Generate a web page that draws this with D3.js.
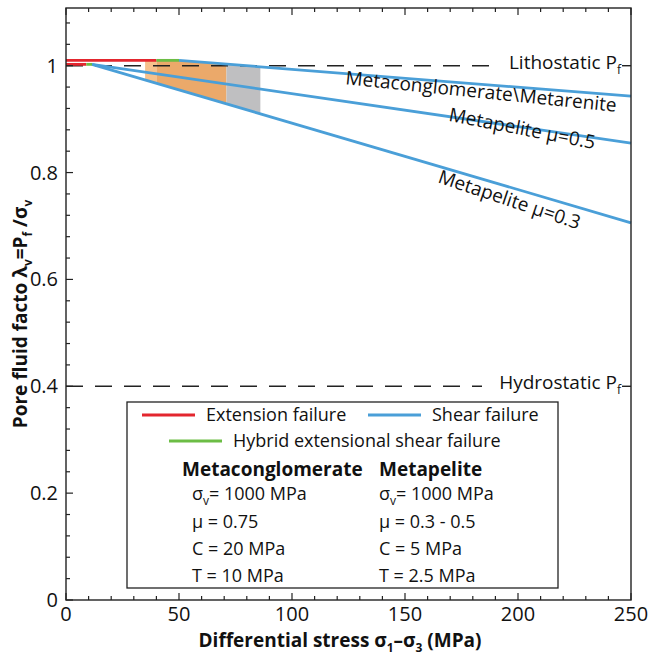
<!DOCTYPE html>
<html>
<head>
<meta charset="utf-8">
<script src="https://cdn.jsdelivr.net/npm/d3@7/dist/d3.min.js"></script>
<style>
  body { margin: 0; background: #fff; }
  text { font-family: "Open Sans", "Noto Sans", sans-serif; fill: #111; }
</style>
</head>
<body>
<svg width="648" height="656"></svg>
<script>
// ---- data ----
const xTicks = [0, 50, 100, 150, 200, 250];
const yTicks = [0, 0.2, 0.4, 0.6, 0.8, 1];
const yTickLabels = ["0", "0.2", "0.4", "0.6", "0.8", "1"];

// metaconglomerate / metarenite
const conglExtX = [0, 40];
const conglExtY = [1.01, 1.01];
const conglHybX = [40, 50];
const conglHybY = [1.01, 1.01];
const conglShearX = [50, 250];
const conglShearY = [1.01, 0.943];

// metapelite
const pelExtX = [0, 9];
const pelExtY = [1.0025, 1.0025];
const pelHybX = [9, 11.5];
const pelHybY = [1.0025, 1.0025];
const pel05X = [11.5, 250];
const pel05Y = [1.0025, 0.855];
const pel03X = [11.5, 250];
const pel03Y = [1.0025, 0.706];

// shaded stress windows (MPa)
const bandEdges = [35, 40, 71, 86];

// reference pore pressure levels
const refLevels = [1, 0.4];
const refNames = ["Lithostatic", "Hydrostatic"];

// ---- layout ----
const width = 648, height = 656;
const margin = { top: 8, right: 17, bottom: 56, left: 66 };
const red = "#e3262e", blue = "#4a9fd8", green = "#6cbd45";
const bandColors = ["#f6c18c", "#eba96a", "#bfbfc1"];

const svg = d3.select("svg");
const x = d3.scaleLinear().domain([0, 250]).range([margin.left, width - margin.right]);
const y = d3.scaleLinear().domain([0, 1.108]).range([height - margin.bottom, margin.top]);

function interp(xs, ys, v) {
  const t = (v - xs[0]) / (xs[1] - xs[0]);
  return ys[0] + t * (ys[1] - ys[0]);
}
function topEnv(v) { return v <= conglShearX[0] ? conglExtY[0] : interp(conglShearX, conglShearY, v); }
function botEnv(v) { return interp(pel03X, pel03Y, v); }

// shaded bands
const area = d3.area().x(d => x(d)).y0(d => y(botEnv(d))).y1(d => y(topEnv(d)));
for (let i = 0; i < bandEdges.length - 1; i++) {
  const a = bandEdges[i], b = bandEdges[i + 1];
  const pts = [a];
  if (conglShearX[0] > a && conglShearX[0] < b) pts.push(conglShearX[0]);
  pts.push(b);
  svg.append("path").attr("d", area(pts)).attr("fill", bandColors[i]);
}

// dashed reference lines + labels
const labelStart = [505, 496];
refLevels.forEach((lv, i) => {
  svg.append("line")
    .attr("x1", x(0)).attr("x2", labelStart[i] - 14)
    .attr("y1", y(lv)).attr("y2", y(lv))
    .attr("stroke", "#222").attr("stroke-width", 1.4)
    .attr("stroke-dasharray", "17,12");
  svg.append("line")
    .attr("x1", x(250) - 9).attr("x2", x(250))
    .attr("y1", y(lv)).attr("y2", y(lv))
    .attr("stroke", "#222").attr("stroke-width", 1.4);
  const t = svg.append("text")
    .attr("x", x(250) - 10).attr("y", y(lv) + 3)
    .attr("text-anchor", "end").attr("font-size", 19);
  t.append("tspan").text(refNames[i] + " P");
  t.append("tspan").attr("dy", 5).attr("font-size", 12).text("f");
});

// failure envelope lines
const line = d3.line().x(d => x(d[0])).y(d => y(d[1]));
function seg(xs, ys, col) {
  svg.append("path")
    .attr("d", line(xs.map((v, i) => [v, ys[i]])))
    .attr("fill", "none").attr("stroke", col).attr("stroke-width", 2.8);
}
seg(pel05X, pel05Y, blue);
seg(pel03X, pel03Y, blue);
seg(conglShearX, conglShearY, blue);
seg(pelExtX, pelExtY, red);
seg(pelHybX, pelHybY, green);
seg(conglExtX, conglExtY, red);
seg(conglHybX, conglHybY, green);

// line labels
function rotLabel(txt, cx, cy, ang) {
  svg.append("text")
    .attr("transform", `translate(${cx},${cy}) rotate(${ang})`)
    .attr("text-anchor", "middle").attr("dominant-baseline", "middle")
    .attr("font-size", 19).text(txt);
}
rotLabel("Metaconglomerate\\Metarenite", 481, 93, 5.8);
rotLabel("Metapelite \u03bc=0.5", 522, 130, 11);
rotLabel("Metapelite \u03bc=0.3", 509, 201, 18.5);

// axes
const x0 = x(0), x1 = x(250), y0 = y(0), y1 = margin.top;
svg.append("rect").attr("x", x0).attr("y", y1).attr("width", x1 - x0).attr("height", y0 - y1)
  .attr("fill", "none").attr("stroke", "#222").attr("stroke-width", 1.4);

d3.range(0, 251, 10).forEach(v => {
  const len = v % 50 === 0 ? 7 : 4;
  svg.append("line").attr("x1", x(v)).attr("x2", x(v)).attr("y1", y0).attr("y2", y0 - len)
    .attr("stroke", "#222").attr("stroke-width", 1.2);
  svg.append("line").attr("x1", x(v)).attr("x2", x(v)).attr("y1", y1).attr("y2", y1 + len)
    .attr("stroke", "#222").attr("stroke-width", 1.2);
});
d3.range(0, 1.1, 0.04).forEach(v => {
  const major = Math.abs(v / 0.2 - Math.round(v / 0.2)) < 1e-6;
  svg.append("line").attr("x1", x0).attr("x2", x0 + (major ? 7 : 4)).attr("y1", y(v)).attr("y2", y(v))
    .attr("stroke", "#222").attr("stroke-width", 1.2);
});

xTicks.forEach(v => {
  svg.append("text").attr("x", x(v)).attr("y", y0 + 21)
    .attr("text-anchor", "middle").attr("font-size", 20).text(v);
});
yTicks.forEach((v, i) => {
  svg.append("text").attr("x", x0 - 8).attr("y", y(v) + 7)
    .attr("text-anchor", "end").attr("font-size", 20).text(yTickLabels[i]);
});

// axis titles
const xt = svg.append("text").attr("x", 340).attr("y", 647)
  .attr("text-anchor", "middle").attr("font-size", 19).attr("font-weight", "bold");
xt.append("tspan").text("Differential stress \u03c3");
xt.append("tspan").attr("dy", 5).attr("font-size", 12).text("1");
xt.append("tspan").attr("dy", -5).text("\u2013\u03c3");
xt.append("tspan").attr("dy", 5).attr("font-size", 12).text("3");
xt.append("tspan").attr("dy", -5).text(" (MPa)");

const yt = svg.append("text").attr("transform", "translate(27,314) rotate(-90)")
  .attr("text-anchor", "middle").attr("font-size", 19).attr("font-weight", "bold");
yt.append("tspan").text("Pore fluid facto \u03bb");
yt.append("tspan").attr("dy", 5).attr("font-size", 12).text("v");
yt.append("tspan").attr("dy", -5).text("=P");
yt.append("tspan").attr("dy", 5).attr("font-size", 12).text("f");
yt.append("tspan").attr("dy", -5).text(" /\u03c3");
yt.append("tspan").attr("dy", 5).attr("font-size", 12).text("v");

// legend
const lg = svg.append("g");
lg.append("rect").attr("x", 127).attr("y", 402).attr("width", 431).attr("height", 186)
  .attr("fill", "#fff").attr("stroke", "#222").attr("stroke-width", 1.3);
const legItems = [
  { c: red, x: 142, y: 415, t: "Extension failure" },
  { c: blue, x: 368, y: 415, t: "Shear failure" },
  { c: green, x: 169, y: 441, t: "Hybrid extensional shear failure" }
];
legItems.forEach(d => {
  lg.append("line").attr("x1", d.x).attr("x2", d.x + 53).attr("y1", d.y).attr("y2", d.y)
    .attr("stroke", d.c).attr("stroke-width", 2.8);
  lg.append("text").attr("x", d.x + 64).attr("y", d.y + 6).attr("font-size", 18).text(d.t);
});
const colX = [182, 379];
const heads = ["Metaconglomerate", "Metapelite"];
const params = [["1000 MPa", "\u03bc = 0.75", "C = 20 MPa", "T = 10 MPa"],
                ["1000 MPa", "\u03bc = 0.3 - 0.5", "C = 5 MPa", "T = 2.5 MPa"]];
const rowY = [500, 528, 555, 582];
heads.forEach((h, i) => {
  lg.append("text").attr("x", colX[i]).attr("y", 476).attr("font-size", 19)
    .attr("font-weight", "bold").text(h);
  const px = colX[i] + (i === 0 ? 10 : 0);
  params[i].forEach((p, j) => {
    const t = lg.append("text").attr("x", px).attr("y", rowY[j]).attr("font-size", 18);
    if (j === 0) {
      t.append("tspan").text("\u03c3");
      t.append("tspan").attr("dy", 5).attr("font-size", 12).text("v");
      t.append("tspan").attr("dy", -5).text("= " + p);
    } else {
      t.text(p);
    }
  });
});
</script>
</body>
</html>
